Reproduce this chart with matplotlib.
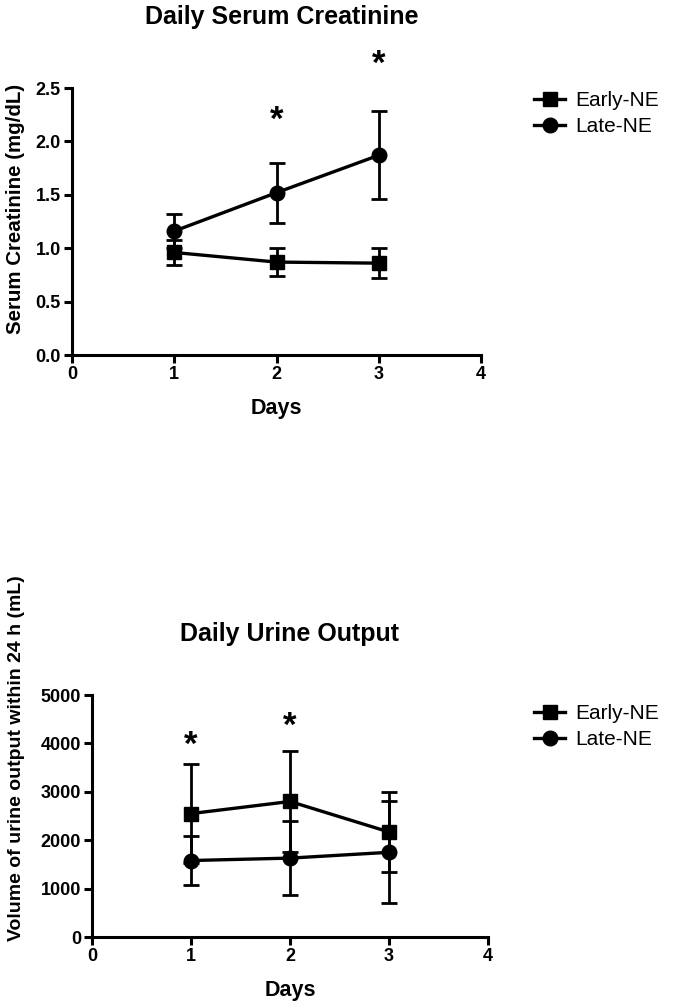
import numpy as np
import matplotlib.pyplot as plt

plt.rcParams['font.family'] = ['Liberation Sans', 'DejaVu Sans']

days = [1, 2, 3]

# serum creatinine (mg/dL)
scr_early = [0.96, 0.87, 0.86]
scr_early_sd = [0.12, 0.13, 0.14]
scr_late = [1.16, 1.52, 1.87]
scr_late_sd = [0.16, 0.28, 0.41]
scr_star_days = [2, 3]
scr_star_y = [2.2, 2.72]

# urine output (mL / 24 h)
uo_early = [2550, 2800, 2170]
uo_early_sd = [1030, 1050, 820]
uo_late = [1580, 1630, 1750]
uo_late_sd = [500, 760, 1050]
uo_star_days = [1, 2]
uo_star_y = [3950, 4350]

W, H = 685, 1008
fig = plt.figure(figsize=(W / 100, H / 100), dpi=100)

def style_axes(ax, yticks, yfmt):
    for s in ['top', 'right']:
        ax.spines[s].set_visible(False)
    for s in ['left', 'bottom']:
        ax.spines[s].set_linewidth(2.2)
    ax.set_xlim(0, 4)
    ax.set_xticks([0, 1, 2, 3, 4])
    ax.set_yticks(yticks)
    ax.set_yticklabels([yfmt.format(v) for v in yticks])
    ax.tick_params(width=2.2, length=6, labelsize=13, pad=2)
    for lab in ax.get_xticklabels() + ax.get_yticklabels():
        lab.set_fontweight('bold')
    ax.set_xlabel('Days', fontsize=15.5, fontweight='bold', labelpad=11)
    ax.spines['left'].set_bounds(yticks[0], yticks[-1])

def draw(ax, early, early_sd, late, late_sd):
    ax.errorbar(days, early, yerr=early_sd, color='black', lw=2.4, marker='s',
                ms=10.5, capsize=6, capthick=2, elinewidth=2, label='Early-NE',
                clip_on=False)
    ax.errorbar(days, late, yerr=late_sd, color='black', lw=2.4, marker='o',
                ms=10.5, capsize=6, capthick=2, elinewidth=2, label='Late-NE',
                clip_on=False)

def add_legend(ax, top_px):
    h, l = ax.get_legend_handles_labels()
    h = [x[0] for x in h]
    ax.legend(h, l, loc='upper left', bbox_to_anchor=(534 / W, 1 - top_px / H),
              bbox_transform=fig.transFigure, frameon=False, fontsize=15,
              handlelength=1.5, handletextpad=0.5, borderpad=0, borderaxespad=0,
              labelspacing=0.35)

# top chart
ax1 = fig.add_axes([72 / W, 1 - 355 / H, 409 / W, 267 / H])
draw(ax1, scr_early, scr_early_sd, scr_late, scr_late_sd)
ax1.set_ylim(0, 2.5)
style_axes(ax1, [0.0, 0.5, 1.0, 1.5, 2.0, 2.5], '{:.1f}')
ax1.set_ylabel('Serum Creatinine (mg/dL)', fontsize=14.8, fontweight='bold')
ax1.yaxis.set_label_coords((25 - 72) / 409, 0.547)
for d, y in zip(scr_star_days, scr_star_y):
    ax1.text(d, y, '*', ha='center', va='center', fontsize=25, fontweight='bold',
             clip_on=False)
fig.text(282 / W, 1 - 17 / H, 'Daily Serum Creatinine', ha='center', va='center',
         fontsize=18, fontweight='bold')
add_legend(ax1, 91)

# bottom chart
ax2 = fig.add_axes([92 / W, 1 - 937 / H, 396 / W, 242 / H])
draw(ax2, uo_early, uo_early_sd, uo_late, uo_late_sd)
ax2.set_ylim(0, 5000)
style_axes(ax2, [0, 1000, 2000, 3000, 4000, 5000], '{:d}')
ax2.set_ylabel('Volume of urine output within 24 h (mL)', fontsize=14,
               fontweight='bold')
ax2.yaxis.set_label_coords((25 - 92) / 396, 0.74)
for d, y in zip(uo_star_days, uo_star_y):
    ax2.text(d, y, '*', ha='center', va='center', fontsize=25, fontweight='bold',
             clip_on=False)
fig.text(290 / W, 1 - 634 / H, 'Daily Urine Output', ha='center', va='center',
         fontsize=18, fontweight='bold')
add_legend(ax2, 704)

fig.savefig('out.png', dpi=100)
